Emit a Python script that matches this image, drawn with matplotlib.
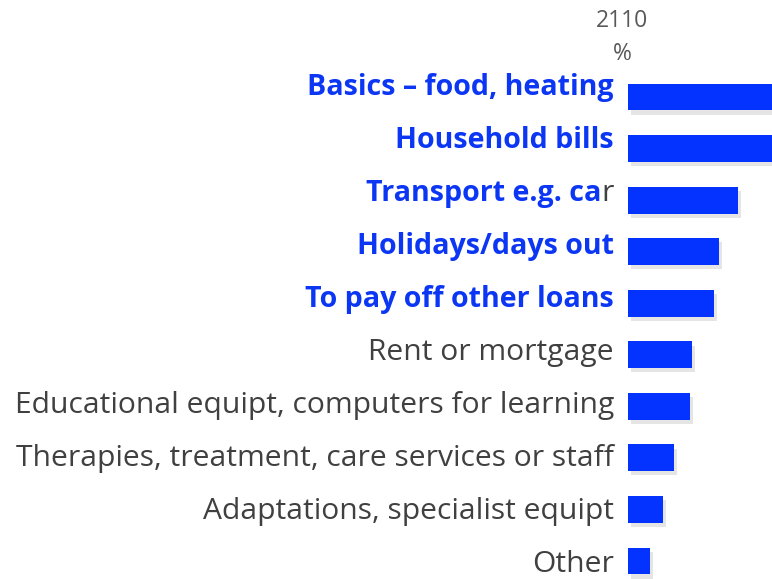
import matplotlib.pyplot as plt
import matplotlib.patheffects as pe

# categories top to bottom, values in %
categories = ["Basics \u2013 food, heating", "Household bills", "Transport e.g. car",
              "Holidays/days out", "To pay off other loans", "Rent or mortgage",
              "Educational equipt, computers for learning",
              "Therapies, treatment, care services or staff",
              "Adaptations, specialist equipt", "Other"]
values = [35, 33, 20, 16.5, 15.6, 11.6, 11.3, 8.4, 6.4, 4]
highlight = [True, True, True, True, True, False, False, False, False, False]

blue = '#0433ff'
txt_blue = '#0b36f4'
grey = '#404040'
fs = 21.6
fs_bold = 20.6
font = 'Open Sans'

W, H = 772, 579
fig = plt.figure(figsize=(W/100, H/100), dpi=100)
ax = fig.add_axes([628/W, 0, 144/W, 508/H])

y = list(range(len(categories)))
bars = ax.barh(y, values, height=0.52, color=blue)
for b in bars:
    b.set_path_effects([pe.SimplePatchShadow(offset=(2, -3), shadow_rgbFace='k', alpha=0.1), pe.Normal()])

ax.set_xlim(0, 144/5.5)
ax.set_ylim(9.349, -0.504)
ax.axis('off')

# labels sit on their own baselines, slightly wider spaced than bars
xr = 614/W
for i, cat in enumerate(categories):
    yb = 1 - (95 + i*53.0)/H
    if cat.startswith("Transport"):
        # last letter is plain grey, rest bold blue
        t = fig.text(xr, yb, "r", ha='right', va='baseline', fontsize=fs,
                     color=grey, family=font)
        ax.annotate(cat[:-1], xy=(0, 0), xycoords=t, ha='right', va='bottom',
                    fontsize=fs_bold, color=txt_blue, fontweight='bold', family=font)
    elif highlight[i]:
        fig.text(xr, yb, cat, ha='right', va='baseline', fontsize=fs_bold,
                 color=txt_blue, fontweight='bold', family=font)
    else:
        fig.text(xr, yb, cat, ha='right', va='baseline', fontsize=fs,
                 color=grey, family=font)

fig.text(622/W, 1 - 21/H, "2110", ha='center', va='center', fontsize=16.5,
         color='#595959', family=font)
fig.text(622/W, 1 - 54/H, "%", ha='center', va='center', fontsize=16.5,
         color='#595959', family=font)

fig.savefig('out.png', dpi=100)
